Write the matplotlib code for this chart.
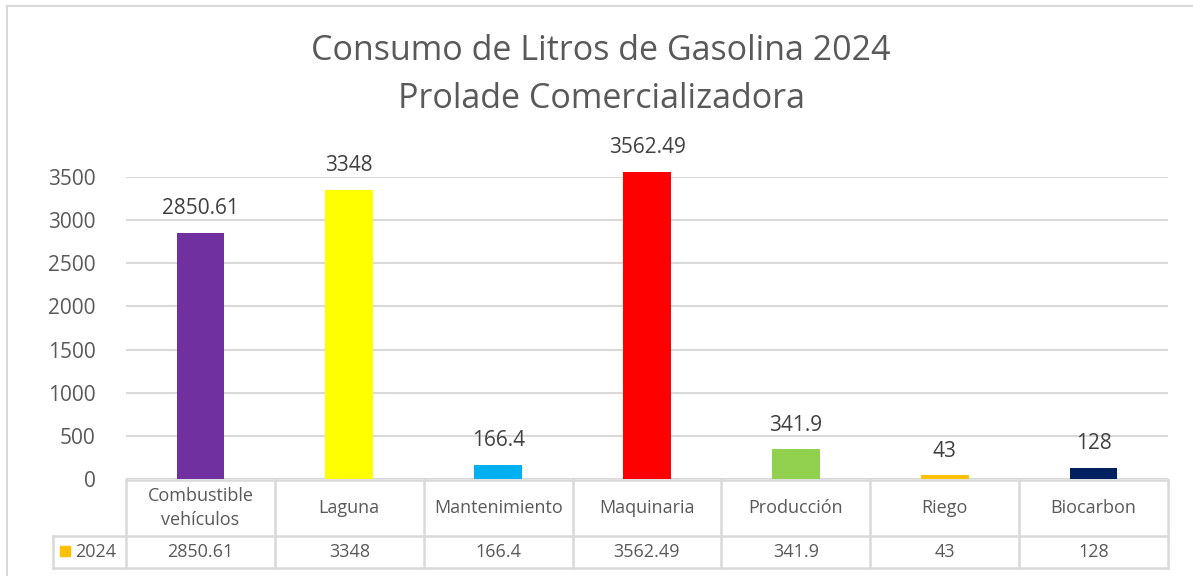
import matplotlib
matplotlib.use("Agg")
import matplotlib.pyplot as plt
from matplotlib.lines import Line2D
from matplotlib.patches import Rectangle

categories = ["Combustible\nvehículos", "Laguna", "Mantenimiento", "Maquinaria",
              "Producción", "Riego", "Biocarbon"]
values = [2850.61, 3348, 166.4, 3562.49, 341.9, 43, 128]
value_labels = ["2850.61", "3348", "166.4", "3562.49", "341.9", "43", "128"]
bar_colors = ["#7030A0", "#FFFF00", "#00B0F0", "#FF0000", "#92D050", "#FFC000", "#002060"]
series_name = "2024"
series_color = "#FFC000"
yticks = [0, 500, 1000, 1500, 2000, 2500, 3000, 3500]
title = "Consumo de Litros de Gasolina 2024\nProlade Comercializadora"

FONT = ["Open Sans", "DejaVu Sans"]
plt.rcParams['font.family'] = FONT

W, H = 1193, 576
fig = plt.figure(figsize=(W / 100, H / 100), dpi=100)
fig.patch.set_facecolor("white")

left, right, bottom, top = 126, 1168, 479, 177
ax = fig.add_axes([left / W, 1 - bottom / H, (right - left) / W, (bottom - top) / H])
ax.set_facecolor("white")

x = list(range(len(categories)))
bars = ax.bar(x, values, width=0.32, color=bar_colors, zorder=3, clip_on=False)
ax.set_xlim(-0.5, len(categories) - 0.5)
ax.set_ylim(0, 3500)
ax.set_yticks(yticks)
ax.set_yticklabels([str(t) for t in yticks])
ax.tick_params(axis='y', length=0, pad=22, labelsize=15, labelcolor="#595959")
ax.tick_params(axis='x', length=0, labelbottom=False)
for s in ax.spines.values():
    s.set_visible(False)
ax.grid(axis='y', color="#D9D9D9", linewidth=1.5, zorder=0)
ax.set_axisbelow(True)

for xi, v, lab in zip(x, values, value_labels):
    ax.annotate(lab, (xi, v), xytext=(0, 13.5), textcoords="offset points",
                ha="center", va="baseline", fontsize=15, color="#404040",
                annotation_clip=False)

# Title
fig.text(601 / W, 1 - 75 / H, title, ha="center", va="center", fontsize=24.5,
         color="#595959", linespacing=1.5)

# Table drawn in pixel coordinates (figure)
def fx(px):
    return px / W

def fy(py):
    return 1 - py / H

grid_c = "#D9D9D9"
lw = 1.8
row1_top, row_mid, row_bot = 480, 536, 568
tbl_left = 53
col_w = (right - left) / len(categories)

def hline(y, x0, x1):
    fig.add_artist(Line2D([fx(x0), fx(x1)], [fy(y), fy(y)], color=grid_c, lw=lw))

def vline(xp, y0, y1):
    fig.add_artist(Line2D([fx(xp), fx(xp)], [fy(y0), fy(y1)], color=grid_c, lw=lw))

hline(row1_top, left, right)
hline(row_mid, tbl_left, right)
hline(row_bot, tbl_left, right)
vline(tbl_left, row_mid, row_bot)
for i in range(len(categories) + 1):
    vline(left + i * col_w, row1_top, row_bot)

for i, (c, lab) in enumerate(zip(categories, value_labels)):
    cx = left + (i + 0.5) * col_w
    fig.text(fx(cx), fy((row1_top + row_mid) / 2), c, ha="center", va="center",
             fontsize=13, color="#595959", linespacing=1.45)
    fig.text(fx(cx), fy((row_mid + row_bot) / 2), lab, ha="center", va="center",
             fontsize=13, color="#595959")

# legend cell
fig.add_artist(Rectangle((fx(60), fy(556)), 10 / W, 10 / H, color=series_color))
fig.text(fx(75), fy((row_mid + row_bot) / 2), series_name, ha="left", va="center",
         fontsize=13, color="#595959")

# chart border
fig.add_artist(Line2D([fx(7), fx(7)], [fy(6), fy(576)], color=grid_c, lw=1.5))
fig.add_artist(Line2D([fx(7), fx(1193)], [fy(6), fy(6)], color=grid_c, lw=1.5))

fig.savefig("out.png", dpi=100, facecolor="white")
